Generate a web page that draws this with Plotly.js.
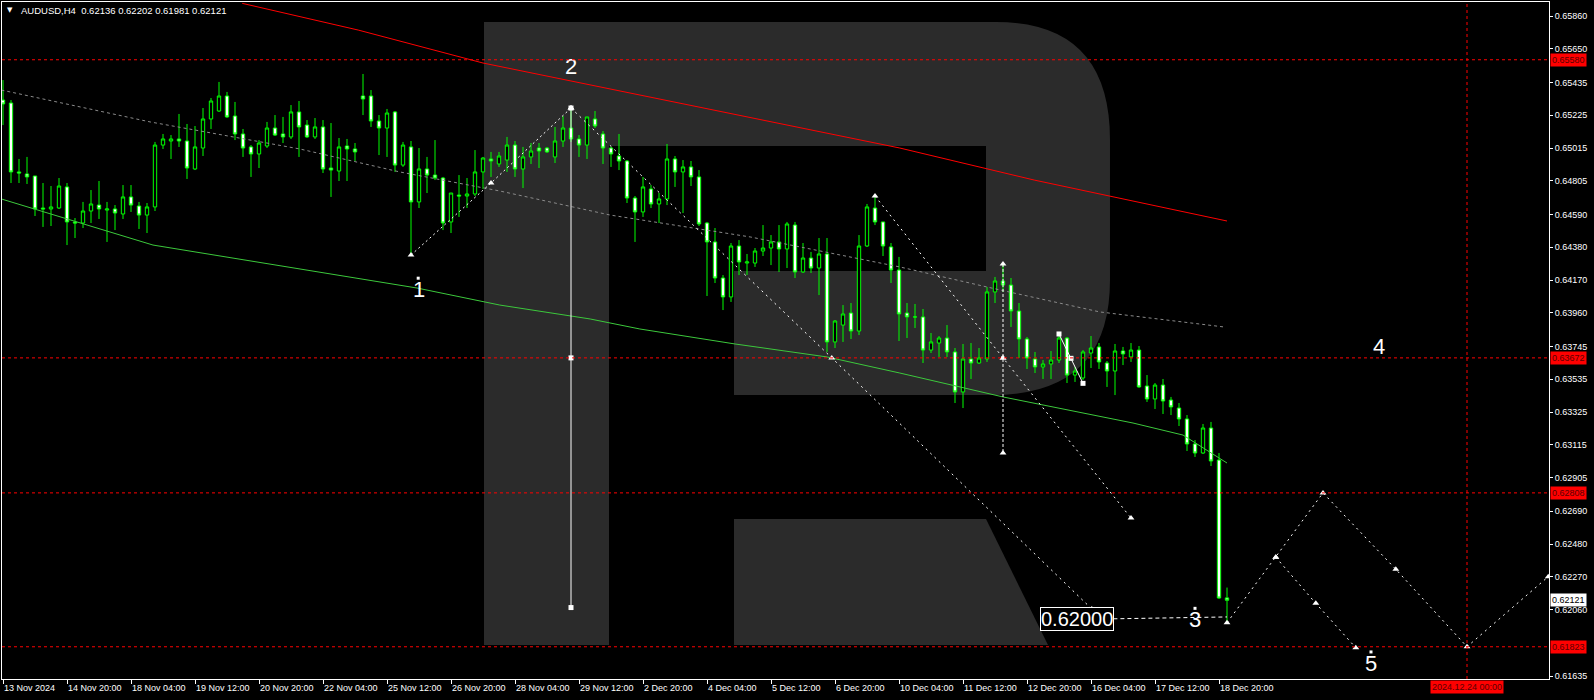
<!DOCTYPE html>
<html><head><meta charset="utf-8">
<script src="https://cdn.plot.ly/plotly-3.0.1.min.js"></script>
<style>html,body{margin:0;padding:0;background:#000;} #chart{width:1594px;height:700px;}</style>
</head><body><div id="chart"></div>
<script>
const opens = [0.65322,0.65303,0.64862,0.64849,0.64836,0.64631,0.64625,0.64631,0.64766,0.64542,
0.64535,0.64612,0.64650,0.64618,0.64625,0.64593,0.64702,0.64644,0.64586,0.64638,
0.65034,0.65060,0.65073,0.65060,0.64881,0.65015,0.65201,0.65252,0.65348,0.65220,
0.65105,0.65022,0.64977,0.65028,0.65143,0.65105,0.65086,0.65246,0.65162,0.65086,
0.65150,0.64887,0.64868,0.65028,0.65009,0.65348,0.65348,0.65188,0.65143,0.65246,
0.64906,0.65022,0.64670,0.64881,0.64842,0.64823,0.64542,0.64714,0.64708,0.64721,
0.64862,0.64945,0.64913,0.64938,0.65034,0.64881,0.64958,0.65015,0.65015,0.64958,
0.65060,0.65143,0.65073,0.65034,0.65201,0.65105,0.65015,0.64964,0.64932,0.64695,
0.64606,0.64753,0.64657,0.64689,0.64945,0.64862,0.64894,0.64830,0.64535,0.64414,
0.64183,0.64062,0.64388,0.64279,0.64279,0.64356,0.64375,0.64414,0.64369,0.64522,
0.64222,0.64311,0.64247,0.64337,0.63774,0.63882,0.63959,0.63844,0.64388,0.64631,
0.64542,0.64382,0.64234,0.63959,0.63934,0.63934,0.63722,0.63767,0.63799,0.63710,
0.63454,0.63665,0.63639,0.63665,0.64094,0.64164,0.64138,0.63972,0.63793,0.63665,
0.63614,0.63633,0.63658,0.63799,0.63562,0.63543,0.63703,0.63742,0.63639,0.63588,
0.63716,0.63678,0.63722,0.63492,0.63409,0.63498,0.63402,0.63351,0.63281,0.63121,
0.63063,0.63223,0.63018,0.62136];
const highs = [0.65450,0.65322,0.64945,0.64958,0.64836,0.64791,0.64772,0.64823,0.64791,0.64567,
0.64670,0.64746,0.64804,0.64670,0.64650,0.64778,0.64778,0.64670,0.64663,0.65054,
0.65105,0.65098,0.65233,0.65169,0.65156,0.65271,0.65335,0.65438,0.65374,0.65310,
0.65137,0.65034,0.65066,0.65182,0.65226,0.65214,0.65290,0.65316,0.65194,0.65207,
0.65194,0.65175,0.65079,0.65073,0.65047,0.65489,0.65386,0.65226,0.65265,0.65252,
0.65054,0.65060,0.65015,0.64958,0.65066,0.64830,0.64727,0.64842,0.64823,0.65002,
0.64958,0.64990,0.64990,0.65086,0.65060,0.65022,0.65047,0.65047,0.65022,0.65150,
0.65220,0.65271,0.65098,0.65214,0.65252,0.65124,0.65022,0.65105,0.64938,0.64708,
0.64830,0.64778,0.64727,0.65041,0.64964,0.64938,0.64932,0.64874,0.64542,0.64503,
0.64202,0.64407,0.64426,0.64337,0.64375,0.64522,0.64458,0.64522,0.64542,0.64542,
0.64407,0.64350,0.64439,0.64439,0.63914,0.64010,0.64023,0.64458,0.64657,0.64708,
0.64542,0.64407,0.64318,0.64023,0.64017,0.63985,0.63831,0.63812,0.63882,0.63735,
0.63761,0.63767,0.63735,0.64126,0.64190,0.64273,0.64183,0.64023,0.63806,0.63710,
0.63658,0.63716,0.63825,0.63806,0.63614,0.63722,0.63812,0.63767,0.63652,0.63761,
0.63742,0.63767,0.63748,0.63562,0.63511,0.63537,0.63422,0.63383,0.63306,0.63146,
0.63249,0.63262,0.63063,0.62202];
const lows = [0.65162,0.64791,0.64791,0.64785,0.64580,0.64510,0.64516,0.64625,0.64394,0.64439,
0.64503,0.64535,0.64561,0.64414,0.64490,0.64561,0.64606,0.64497,0.64471,0.64612,
0.65009,0.64945,0.65022,0.64817,0.64874,0.64964,0.65137,0.65246,0.65207,0.65066,
0.64958,0.64830,0.64887,0.65015,0.65092,0.65047,0.65073,0.64958,0.65079,0.65073,
0.64855,0.64702,0.64804,0.64804,0.64932,0.65226,0.65150,0.64970,0.64958,0.64862,
0.64894,0.64330,0.64631,0.64727,0.64810,0.64490,0.64471,0.64574,0.64631,0.64708,
0.64753,0.64830,0.64894,0.64862,0.64830,0.64759,0.64913,0.64887,0.64983,0.64919,
0.65022,0.65054,0.64958,0.64945,0.65143,0.64913,0.64894,0.64874,0.64663,0.64414,
0.64574,0.64631,0.64535,0.64650,0.64766,0.64599,0.64772,0.64516,0.64068,0.64151,
0.63978,0.64030,0.64202,0.64202,0.64254,0.64324,0.64266,0.64222,0.64247,0.64183,
0.64215,0.64215,0.64074,0.63710,0.63735,0.63774,0.63793,0.63818,0.64382,0.64522,
0.64324,0.64151,0.63780,0.63799,0.63863,0.63639,0.63703,0.63678,0.63678,0.63383,
0.63351,0.63537,0.63633,0.63646,0.64023,0.64094,0.63870,0.63671,0.63601,0.63575,
0.63537,0.63537,0.63639,0.63511,0.63518,0.63530,0.63607,0.63601,0.63486,0.63434,
0.63626,0.63646,0.63480,0.63390,0.63345,0.63313,0.63306,0.63236,0.63076,0.63038,
0.63057,0.62980,0.62130,0.61981];
const closes = [0.65297,0.64862,0.64855,0.64830,0.64625,0.64625,0.64638,0.64772,0.64542,0.64535,
0.64612,0.64657,0.64625,0.64625,0.64599,0.64702,0.64650,0.64586,0.64638,0.65034,
0.65073,0.65073,0.65060,0.64887,0.65022,0.65201,0.65316,0.65348,0.65214,0.65105,
0.65015,0.64977,0.65047,0.65143,0.65098,0.65086,0.65246,0.65150,0.65086,0.65150,
0.64881,0.64874,0.65022,0.65009,0.64990,0.65329,0.65188,0.65143,0.65239,0.64906,
0.65034,0.64670,0.64881,0.64842,0.64823,0.64535,0.64727,0.64708,0.64721,0.64862,
0.64951,0.64932,0.64964,0.65034,0.64881,0.64958,0.64996,0.64996,0.64990,0.65060,
0.65143,0.65073,0.65034,0.65214,0.65156,0.65015,0.64977,0.64932,0.64695,0.64606,
0.64766,0.64657,0.64689,0.64945,0.64862,0.64894,0.64830,0.64529,0.64414,0.64183,
0.64062,0.64388,0.64286,0.64286,0.64356,0.64375,0.64414,0.64369,0.64529,0.64222,
0.64311,0.64247,0.64337,0.63774,0.63908,0.63953,0.63844,0.64388,0.64638,0.64542,
0.64388,0.64234,0.63953,0.63934,0.63934,0.63722,0.63774,0.63799,0.63710,0.63454,
0.63665,0.63639,0.63671,0.64094,0.64164,0.64138,0.63972,0.63793,0.63671,0.63614,
0.63633,0.63658,0.63799,0.63562,0.63588,0.63710,0.63735,0.63646,0.63588,0.63716,
0.63697,0.63722,0.63486,0.63409,0.63498,0.63396,0.63358,0.63281,0.63121,0.63063,
0.63223,0.63012,0.62135,0.62121];

const timeLabels = ["13 Nov 2024","14 Nov 20:00","18 Nov 04:00","19 Nov 12:00","20 Nov 20:00","22 Nov 04:00",
"25 Nov 12:00","26 Nov 20:00","28 Nov 04:00","29 Nov 12:00","2 Dec 20:00","4 Dec 04:00","5 Dec 12:00",
"6 Dec 20:00","10 Dec 04:00","11 Dec 12:00","12 Dec 20:00","16 Dec 04:00","17 Dec 12:00","18 Dec 20:00"];
const priceTicks = [0.65860,0.65650,0.65435,0.65225,0.65015,0.64805,0.64590,0.64380,0.64170,0.63960,
0.63745,0.63535,0.63325,0.63115,0.62905,0.62690,0.62480,0.62270,0.62060,0.61635];
const levelPrices = [0.65580,0.63672,0.62808,0.61823];
const lastPrice = 0.62121;
const headerText = "AUDUSD,H4  0.62136 0.62202 0.61981 0.62121";
const futureDateLabel = "2024.12.24 00:00";
const futureDateBar = 183;

// moving averages (bar index, price)
const redMaBar = [29.9,44.4,60,112.1,128.9,153];
const redMaVal = [0.65941,0.65770,0.65559,0.65015,0.64810,0.64548];
const greenMaBar = [-0.2,18.75,51.75,62.1,73.4,79.6,91.5,103,112.1,125,141.25,147.5,153];
const greenMaVal = [0.64689,0.64394,0.64119,0.64010,0.63921,0.63857,0.63761,0.63678,0.63575,0.63422,0.63255,0.63178,0.62999];
const grayMaBar = [-0.2,18.4,37.1,49.6,62.1,75.9,93.4,112.1,124.6,137.1,152.6];
const grayMaVal = [0.65386,0.65182,0.65009,0.64862,0.64740,0.64586,0.64446,0.64254,0.64107,0.63966,0.63870];

// wave analysis lines
const waveABar = [51,61,71], waveAVal = [0.64330,0.64791,0.65271];
const waveBBar = [71,103.6,136.1], waveBVal = [0.65271,0.63672,0.62065];
const waveCBar = [109,125,141], waveCVal = [0.64708,0.63672,0.62647];
const vert1Bar = [71,71,71], vert1Val = [0.65271,0.63672,0.62074];
const vert2Bar = [125,125,125], vert2Val = [0.64273,0.63672,0.63063];
const smallBar = [132,133.5,135], smallVal = [0.63825,0.63669,0.63509];
const flatBar = [138.8,153], flatVal = [0.62002,0.62014];
const projBar = [153,159.1,165,174.1,183,193.16], projVal = [0.61977,0.62396,0.62808,0.62319,0.61823,0.62272];
const branchBar = [159.1,164.1,169.1], branchVal = [0.62396,0.62101,0.61817];
const waveLabels = ["1","2","3","4","5"];
const waveLabelBar = [52,71,149,172,171];
const waveLabelVal = [0.64096,0.65525,0.61984,0.63733,0.61706];
const waveDotBar = [51.9,149,171];
const waveDotVal = [0.64182,0.62069,0.61790];
const targetText = "0.62000";
const targetBar = 134.2, targetVal = 0.62000;

const FONT = "Liberation Sans, Arial, sans-serif";
const bars = opens.map((_, i) => i);
const W = '#ffffff';

function line(x, y, dash, width, mode, msym, msize) {
  return {type:'scatter', x:x, y:y, mode:mode||'lines', hoverinfo:'skip', showlegend:false,
    line:{color:W, width:width||1, dash:dash||'solid'},
    marker:{color:W, symbol:msym||'triangle-up', size:msize||6}, cliponaxis:true};
}

const traces = [
  {type:'scatter', x:grayMaBar, y:grayMaVal, mode:'lines', hoverinfo:'skip', showlegend:false,
   line:{color:'#8a8a8a', width:1, dash:'3px,3px'}},
  {type:'scatter', x:greenMaBar, y:greenMaVal, mode:'lines', hoverinfo:'skip', showlegend:false,
   line:{color:'#3cc83c', width:1}},
  {type:'scatter', x:redMaBar, y:redMaVal, mode:'lines', hoverinfo:'skip', showlegend:false,
   line:{color:'#ff0000', width:1}},
  {type:'candlestick', x:bars, open:opens, high:highs, low:lows, close:closes, hoverinfo:'skip', showlegend:false,
   whiskerwidth:0,
   increasing:{line:{color:'#00ff00', width:1}, fillcolor:'#000000'},
   decreasing:{line:{color:'#00ff00', width:1}, fillcolor:'#ffffff'}},
  line(waveABar, waveAVal, '2px,3px', 1, 'lines+markers'),
  line(waveBBar, waveBVal, '2px,4px', 1, 'lines+markers'),
  line(waveCBar, waveCVal, '2px,4px', 1, 'lines+markers'),
  line(vert1Bar, vert1Val, 'solid', 1, 'lines+markers', 'square', 5),
  line(vert2Bar, vert2Val, '3px,2px', 1, 'lines+markers', 'triangle-up', 6),
  line(smallBar, smallVal, 'solid', 1, 'lines+markers', 'square', 5),
  line(flatBar, flatVal, '4px,3px', 1, 'lines'),
  line(projBar, projVal, '2px,4px', 1, 'lines+markers'),
  line(branchBar, branchVal, '2px,4px', 1, 'lines+markers'),
  {type:'scatter', x:waveDotBar, y:waveDotVal, mode:'markers', hoverinfo:'skip', showlegend:false,
   marker:{color:W, symbol:'square', size:3}},
  {type:'scatter', x:waveLabelBar, y:waveLabelVal, mode:'text', text:waveLabels, hoverinfo:'skip', showlegend:false,
   textfont:{family:FONT, size:22, color:W}, textposition:'middle center'}
];

// logo (pixel geometry converted to paper coordinates)
const PX = (x) => ((x - 2) / 1547).toFixed(5);
const PY = (y) => ((679 - y) / 677).toFixed(5);
const pt = (x, y) => PX(x) + ',' + PY(y);
const logoOuter = 'M' + pt(484,22) + ' L' + pt(996,22) + ' Q' + pt(1110,22) + ' ' + pt(1110,140) +
  ' L' + pt(1110,280) + ' Q' + pt(1110,395) + ' ' + pt(992,395) + ' L' + pt(734,395) + ' L' + pt(734,271) +
  ' L' + pt(609,271) + ' L' + pt(609,645) + ' L' + pt(484,645) + ' Z';
const logoLeg = 'M' + pt(734,519) + ' L' + pt(986,519) + ' L' + pt(1048,645) + ' L' + pt(734,645) + ' Z';
const GRAY = '#2b2b2b';
const shapes = [
  {type:'path', xref:'paper', yref:'paper', path:logoOuter, fillcolor:GRAY, line:{width:0}, layer:'below'},
  {type:'path', xref:'paper', yref:'paper', path:logoLeg, fillcolor:GRAY, line:{width:0}, layer:'below'},
  {type:'rect', xref:'paper', yref:'paper', x0:PX(609), x1:PX(986), y0:PY(271), y1:PY(146), fillcolor:'#000000', line:{width:0}, layer:'below'}
];
levelPrices.forEach(p => shapes.push({type:'line', xref:'paper', yref:'y', x0:0, x1:1, y0:p, y1:p,
  line:{color:'#ff0000', width:1, dash:'3px,3px'}, layer:'above'}));
shapes.push({type:'line', xref:'x', yref:'paper', x0:futureDateBar, x1:futureDateBar, y0:0, y1:1,
  line:{color:'#ff0000', width:1, dash:'3px,3px'}, layer:'above'});

const annotations = [];
levelPrices.forEach(p => annotations.push({xref:'paper', yref:'y', x:1, y:p, xanchor:'left', yanchor:'middle',
  xshift:1, text:p.toFixed(5), showarrow:false, bgcolor:'#ff0000', borderpad:1,
  font:{family:FONT, size:9, color:'#5a0000'}}));
annotations.push({xref:'paper', yref:'y', x:1, y:lastPrice, xanchor:'left', yanchor:'middle', xshift:1,
  text:lastPrice.toFixed(5), showarrow:false, bgcolor:'#ffffff', borderpad:1, font:{family:FONT, size:9, color:'#000000'}});
annotations.push({xref:'x', yref:'paper', x:futureDateBar, y:PY(687), xanchor:'center', yanchor:'middle',
  text:futureDateLabel, showarrow:false, bgcolor:'#ff0000', borderpad:1, font:{family:FONT, size:9, color:'#5a0000'}});
annotations.push({xref:'paper', yref:'paper', x:PX(19), y:PY(10), xanchor:'left', yanchor:'middle',
  text:headerText, showarrow:false, font:{family:FONT, size:9.5, color:'#ffffff'}});
annotations.push({xref:'paper', yref:'paper', x:PX(10), y:PY(10), xanchor:'center', yanchor:'middle',
  text:'▼', showarrow:false, font:{family:'DejaVu Sans', size:7, color:'#ffffff'}});
annotations.push({xref:'x', yref:'y', x:targetBar, y:targetVal, xanchor:'center', yanchor:'middle',
  text:targetText, showarrow:false, bgcolor:'#000000', bordercolor:'#ffffff', borderwidth:1, borderpad:0,
  font:{family:FONT, size:20, color:'#ffffff'}});

const layout = {
  width:1594, height:700, autosize:false,
  margin:{l:2, r:45, t:2, b:21, pad:0},
  paper_bgcolor:'#000000', plot_bgcolor:'#000000',
  showlegend:false, hovermode:false, dragmode:false,
  boxgap:0.4,
  xaxis:{type:'linear', range:[-0.125, 193.25], showgrid:false, zeroline:false,
    showline:true, linecolor:'#ffffff', linewidth:1, mirror:true,
    tickvals:timeLabels.map((_, k) => k * 8), ticktext:timeLabels,
    ticks:'outside', ticklen:4, tickcolor:'#ffffff', ticklabelposition:'outside right',
    tickfont:{family:FONT, size:9, color:'#ffffff'}, rangeslider:{visible:false}, fixedrange:true},
  yaxis:{side:'right', range:[0.616168, 0.659496], showgrid:false, zeroline:false,
    showline:true, linecolor:'#ffffff', linewidth:1, mirror:true,
    tickvals:priceTicks, ticktext:priceTicks.map(v => v.toFixed(5)),
    ticks:'outside', ticklen:3, tickcolor:'#ffffff',
    tickfont:{family:FONT, size:9, color:'#ffffff'}, fixedrange:true},
  shapes:shapes, annotations:annotations
};

Plotly.newPlot('chart', traces, layout, {staticPlot:true, displayModeBar:false});
</script>
</body></html>
